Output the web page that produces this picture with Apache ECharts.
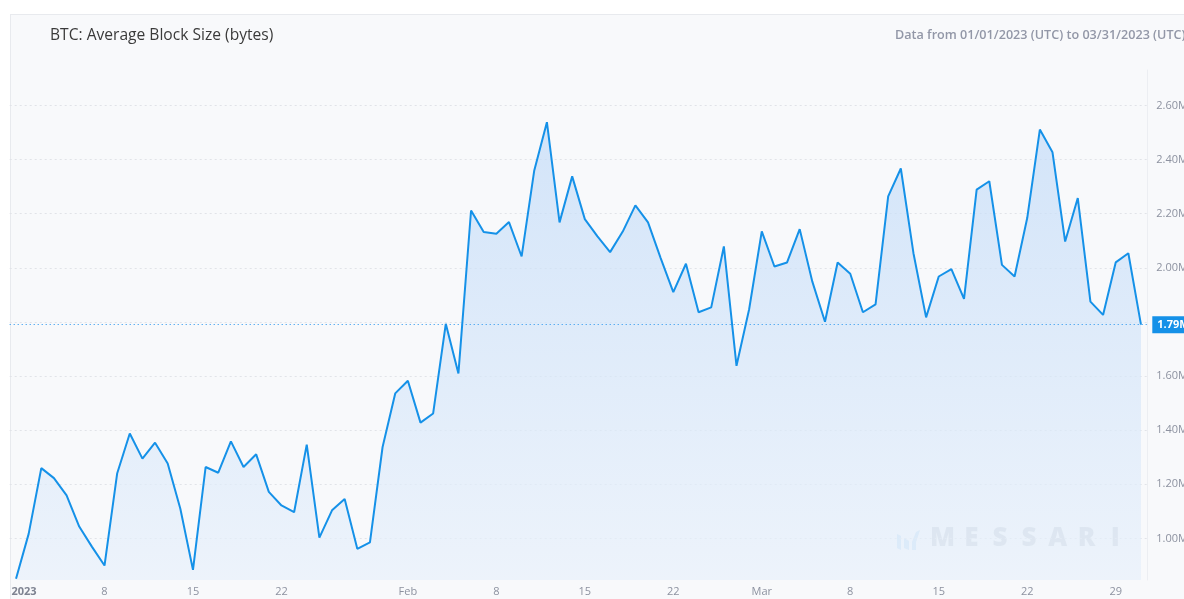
<!DOCTYPE html>
<html>
<head>
<meta charset="utf-8">
<script src="https://cdn.jsdelivr.net/npm/echarts@6.0.0/dist/echarts.min.js"></script>
<style>
html,body{margin:0;padding:0;background:#ffffff;overflow:hidden;}
#panel{position:absolute;left:10px;top:14px;width:1200px;height:620px;background:#f8f9fb;border:1px solid #e8eaee;box-sizing:border-box;}
#chart{position:absolute;left:0;top:0;width:1184px;height:599px;}
</style>
</head>
<body>
<div id="panel"></div>
<div id="chart"></div>
<script>
// Average block size in millions of bytes, one value per day
const janValues = [0.851,1.017,1.260,1.223,1.159,1.044,0.970,0.900,1.240,1.388,1.295,1.354,1.277,1.110,0.884,1.264,1.243,1.359,1.264,1.311,1.172,1.122,1.097,1.347,1.003,1.104,1.146,0.962,0.986,1.338,1.536];
const febValues = [1.583,1.428,1.462,1.793,1.610,2.212,2.132,2.126,2.169,2.042,2.360,2.538,2.168,2.338,2.180,2.116,2.058,2.134,2.231,2.168,2.036,1.910,2.015,1.836,1.854,2.079,1.638,1.847];
const marValues = [2.135,2.005,2.020,2.143,1.949,1.801,2.020,1.978,1.836,1.865,2.264,2.367,2.054,1.817,1.968,1.995,1.885,2.289,2.320,2.011,1.968,2.184,2.511,2.427,2.097,2.258,1.875,1.826,2.020,2.054,1.790];
const months = ['01','02','03'];
const tickDates = ['2023-01-01','2023-01-08','2023-01-15','2023-01-22','2023-02-01','2023-02-08','2023-02-15','2023-02-22','2023-03-01','2023-03-08','2023-03-15','2023-03-22','2023-03-29'];
const tickLabels = ['2023','8','15','22','Feb','8','15','22','Mar','8','15','22','29'];
const yTicks = [1.0,1.2,1.4,1.6,1.8,2.0,2.2,2.4,2.6];
const titleText = 'BTC: Average Block Size (bytes)';
const rangeText = 'Data from 01/01/2023 (UTC) to 03/31/2023 (UTC)';
const watermarkLetters = ['M','E','S','S','A','R','I'];

const monthValues = [janValues, febValues, marValues];
const dates = [];
const values = [];
monthValues.forEach((arr, m) => {
  arr.forEach((v, d) => {
    dates.push('2023-' + months[m] + '-' + String(d + 1).padStart(2, '0'));
    values.push(v);
  });
});
const lastValue = values[values.length - 1];

const chart = echarts.init(document.getElementById('chart'), null, {renderer: 'canvas'});
const font = "'Open Sans', 'Noto Sans', sans-serif";
const wmColor = 'rgba(168,175,188,0.5)';
const watermark = watermarkLetters.map((ch, k) => ({
  type: 'text', x: 45.5 + k * 28.8, y: -4,
  style: {text: ch, fill: wmColor, fontSize: 26, fontWeight: 800, fontFamily: font, textAlign: 'center'}
}));
chart.setOption({
  animation: false,
  backgroundColor: 'transparent',
  textStyle: {fontFamily: font},
  grid: {left: 9.7, right: 36.7, top: 70, bottom: 19, containLabel: false, outerBoundsMode: 'none'},
  xAxis: {
    type: 'category',
    data: dates,
    boundaryGap: true,
    axisLine: {show: false},
    axisTick: {show: false},
    splitLine: {show: false},
    axisLabel: {
      interval: (idx, val) => tickDates.indexOf(val) >= 0,
      formatter: (val) => {
        const k = tickDates.indexOf(val);
        return k === 0 ? '{yr|' + tickLabels[k] + '}' : tickLabels[k];
      },
      color: '#8d92a0',
      fontSize: 11,
      margin: 6,
      fontFamily: font,
      rich: {yr: {fontWeight: 'bold', color: '#7e8391', fontSize: 11, padding: [0, 0, 0, 16], fontFamily: font}}
    }
  },
  yAxis: {
    type: 'value',
    position: 'right',
    min: 0.8466,
    max: 2.731,
    axisLine: {show: true, lineStyle: {color: '#eceef2', width: 1}},
    axisTick: {show: false, customValues: yTicks},
    axisLabel: {
      customValues: yTicks,
      formatter: (v) => v.toFixed(2) + 'M',
      color: '#8d92a0',
      fontSize: 11,
      margin: 9,
      fontFamily: font
    },
    splitLine: {show: true, lineStyle: {color: '#e1e3e8', type: [2, 3], width: 1}}
  },
  series: [{
    type: 'line',
    data: values,
    symbol: 'none',
    lineStyle: {color: '#1591e8', width: 2},
    itemStyle: {color: '#1591e8'},
    areaStyle: {
      color: new echarts.graphic.LinearGradient(0, 0, 0, 1, [
        {offset: 0, color: '#c2dbf7'},
        {offset: 1, color: '#e7f0fa'}
      ])
    },
    markLine: {
      silent: true,
      symbol: ['none', 'none'],
      data: [{yAxis: lastValue}],
      lineStyle: {color: '#1e90ee', type: [1, 3], width: 1},
      label: {
        position: 'end',
        distance: 5,
        formatter: lastValue.toFixed(2) + 'M',
        backgroundColor: '#1591e8',
        color: '#ffffff',
        fontWeight: 'bold',
        fontSize: 11,
        padding: [3, 6, 3, 5],
        fontFamily: font
      }
    }
  }],
  graphic: [
    {type: 'text', left: 50, top: 28, style: {text: titleText, fill: '#3a3a3a', fontSize: 15.6, fontFamily: font}},
    {type: 'text', left: 895, top: 29, style: {text: rangeText, fill: '#9297a7', fontSize: 12.6, fontWeight: 600, fontFamily: font}},
    {type: 'group', left: 897, top: 526, z: 100, children: [
      {type: 'polygon', shape: {points: [[0, 4], [4, 6], [4, 20], [0, 18]]}, style: {fill: 'rgba(160,200,240,0.55)'}},
      {type: 'polygon', shape: {points: [[7, 8], [12, 11], [12, 20], [7, 18]]}, style: {fill: 'rgba(160,200,240,0.55)'}},
      {type: 'polygon', shape: {points: [[15, 12], [19, 2], [23, 0], [19, 12], [19, 20], [15, 20]]}, style: {fill: 'rgba(160,200,240,0.55)'}}
    ].concat(watermark)}
  ]
});
</script>
</body>
</html>
